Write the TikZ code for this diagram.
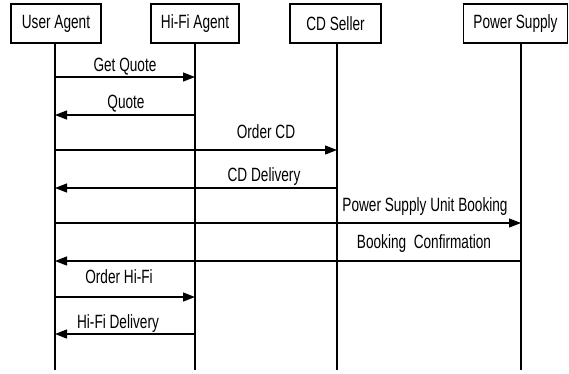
\documentclass[tikz,border=0pt]{standalone}
\usepackage{fontspec}
\setmainfont[FakeStretch=0.71]{Liberation Sans}
\usetikzlibrary{arrows.meta}
\begin{document}
\begin{tikzpicture}[x=1pt,y=-1pt,
  actor/.style={draw,line width=1.2pt,minimum height=39pt,inner sep=0pt,
    font=\fontsize{19.2}{22}\selectfont},
  lifeline/.style={line width=1.2pt},
  msg/.style={line width=1.2pt,-{Triangle[length=12pt,width=9pt]}},
  lbl/.style={anchor=base,inner sep=0pt,font=\fontsize{19.2}{22}\selectfont}]
\useasboundingbox (0,0) rectangle (569,373);
% participants
\node[actor,minimum width=90pt]  (ua) at (56,23.5)  {User Agent};
\node[actor,minimum width=88pt]  (hf) at (195,23.5) {Hi-Fi Agent};
\node[actor,minimum width=91pt]  (cd) at (335.5,23.5) {CD Seller};
\node[actor,minimum width=104pt] (ps) at (515.5,23.5) {Power Supply};
% lifeline ends
\coordinate (uaE) at (55,370);
\coordinate (hfE) at (195,370);
\coordinate (cdE) at (337,370);
\coordinate (psE) at (521,370);
\draw[lifeline] (ua.south -| uaE) -- (uaE);
\draw[lifeline] (hf.south -| hfE) -- (hfE);
\draw[lifeline] (cd.south -| cdE) -- (cdE);
\draw[lifeline] (ps.south -| psE) -- (psE);
% messages
\draw[msg] (uaE |- 0,77)  -- (hfE |- 0,77);
\node[lbl] (m1) at (125,71) {Get Quote};
\draw[msg] (hfE |- 0,115) -- (uaE |- 0,115);
\node[lbl] (m2) at (126,108) {Quote};
\draw[msg] (uaE |- 0,150) -- (cdE |- 0,150);
\node[lbl] (m3) at (266,138) {Order CD};
\draw[msg] (cdE |- 0,188) -- (uaE |- 0,188);
\node[lbl] (m4) at (264,181) {CD Delivery};
\draw[msg] (uaE |- 0,223) -- (psE |- 0,223);
\node[lbl] (m5) at (425,211) {Power Supply Unit Booking};
\draw[msg] (psE |- 0,261) -- (uaE |- 0,261);
\node[lbl] (m6) at (424,248) {Booking\ \ Confirmation};
\draw[msg] (uaE |- 0,297) -- (hfE |- 0,297);
\node[lbl] (m7) at (119,283) {Order Hi-Fi};
\draw[msg] (hfE |- 0,334) -- (uaE |- 0,334);
\node[lbl] (m8) at (118,328) {Hi-Fi Delivery};
\end{tikzpicture}
\end{document}
